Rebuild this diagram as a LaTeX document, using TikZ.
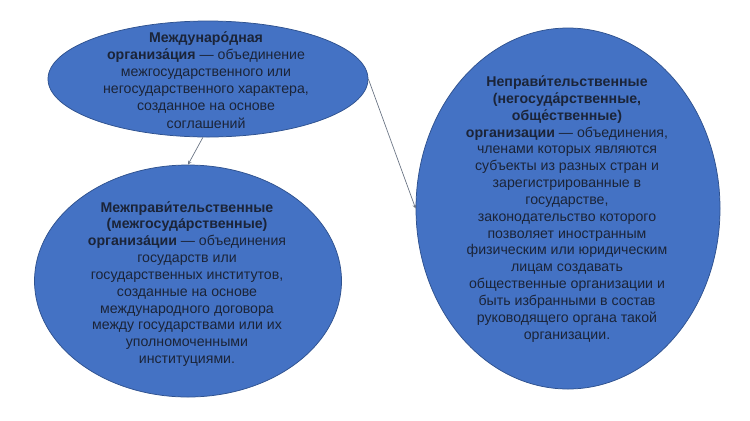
\documentclass[tikz,border=0pt]{standalone}
\usepackage{fontspec}
\setmainfont{Liberation Sans}
\usepackage{tikz}
\usetikzlibrary{shapes}

\definecolor{blobfill}{HTML}{4472C4}
\definecolor{blobedge}{HTML}{2F528F}
\definecolor{blobtext}{HTML}{1B2438}
\definecolor{linkgray}{HTML}{6B7585}

\tikzset{
  blob/.style={ellipse,draw=blobedge,fill=blobfill,line width=0.75pt,inner sep=0pt},
  blobtxt/.style={align=center,text=blobtext,inner sep=0pt,
    font=\fontsize{14.2}{16.9}\selectfont},
  link/.style={->,draw=linkgray,line width=0.7pt}
}

\begin{document}
\begin{tikzpicture}[x=1bp,y=-1bp,>=stealth]
    \useasboundingbox (0,0) rectangle (750,420);
    \node[blob,minimum width=320bp,minimum height=116bp] (intl) at (208,79) {};
    \node[blob,minimum width=307bp,minimum height=232bp] (gov)  at (188,281) {};
    \node[blob,minimum width=304bp,minimum height=361bp] (ngo)  at (568,208.5) {};
    %
    \node[blobtxt,font=\fontsize{14.2}{17.2}\selectfont] (intltext) at (206,80) {\textbf{Междунаро́дная}\\
      \textbf{организа́ция} — объединение\\
      межгосударственного или\\
      негосударственного характера,\\
      созданное на основе\\
      соглашений};
    \node[blobtxt] (govtext) at (187,284) {\textbf{Межправи́тельственные}\\
      \textbf{(межгосуда́рственные)}\\
      \textbf{организа́ции} — объединения\\
      государств или\\
      государственных институтов,\\
      созданные на основе\\
      международного договора\\
      между государствами или их\\
      уполномоченными\\
      институциями.};
    \node[blobtxt] (ngotext) at (567,209) {\textbf{Неправи́тельственные}\\
      \textbf{(негосуда́рственные,}\\
      \textbf{обще́ственные)}\\
      \textbf{организации} — объединения,\\
      членами которых являются\\
      субъекты из разных стран и\\
      зарегистрированные в\\
      государстве,\\
      законодательство которого\\
      позволяет иностранным\\
      физическим или юридическим\\
      лицам создавать\\
      общественные организации и\\
      быть избранными в состав\\
      руководящего органа такой\\
      организации.};
    %
    \draw[link] (intl.265) -- (gov.north);
    \draw[link] (intl.east) -- (ngo.west);
\end{tikzpicture}
\end{document}
